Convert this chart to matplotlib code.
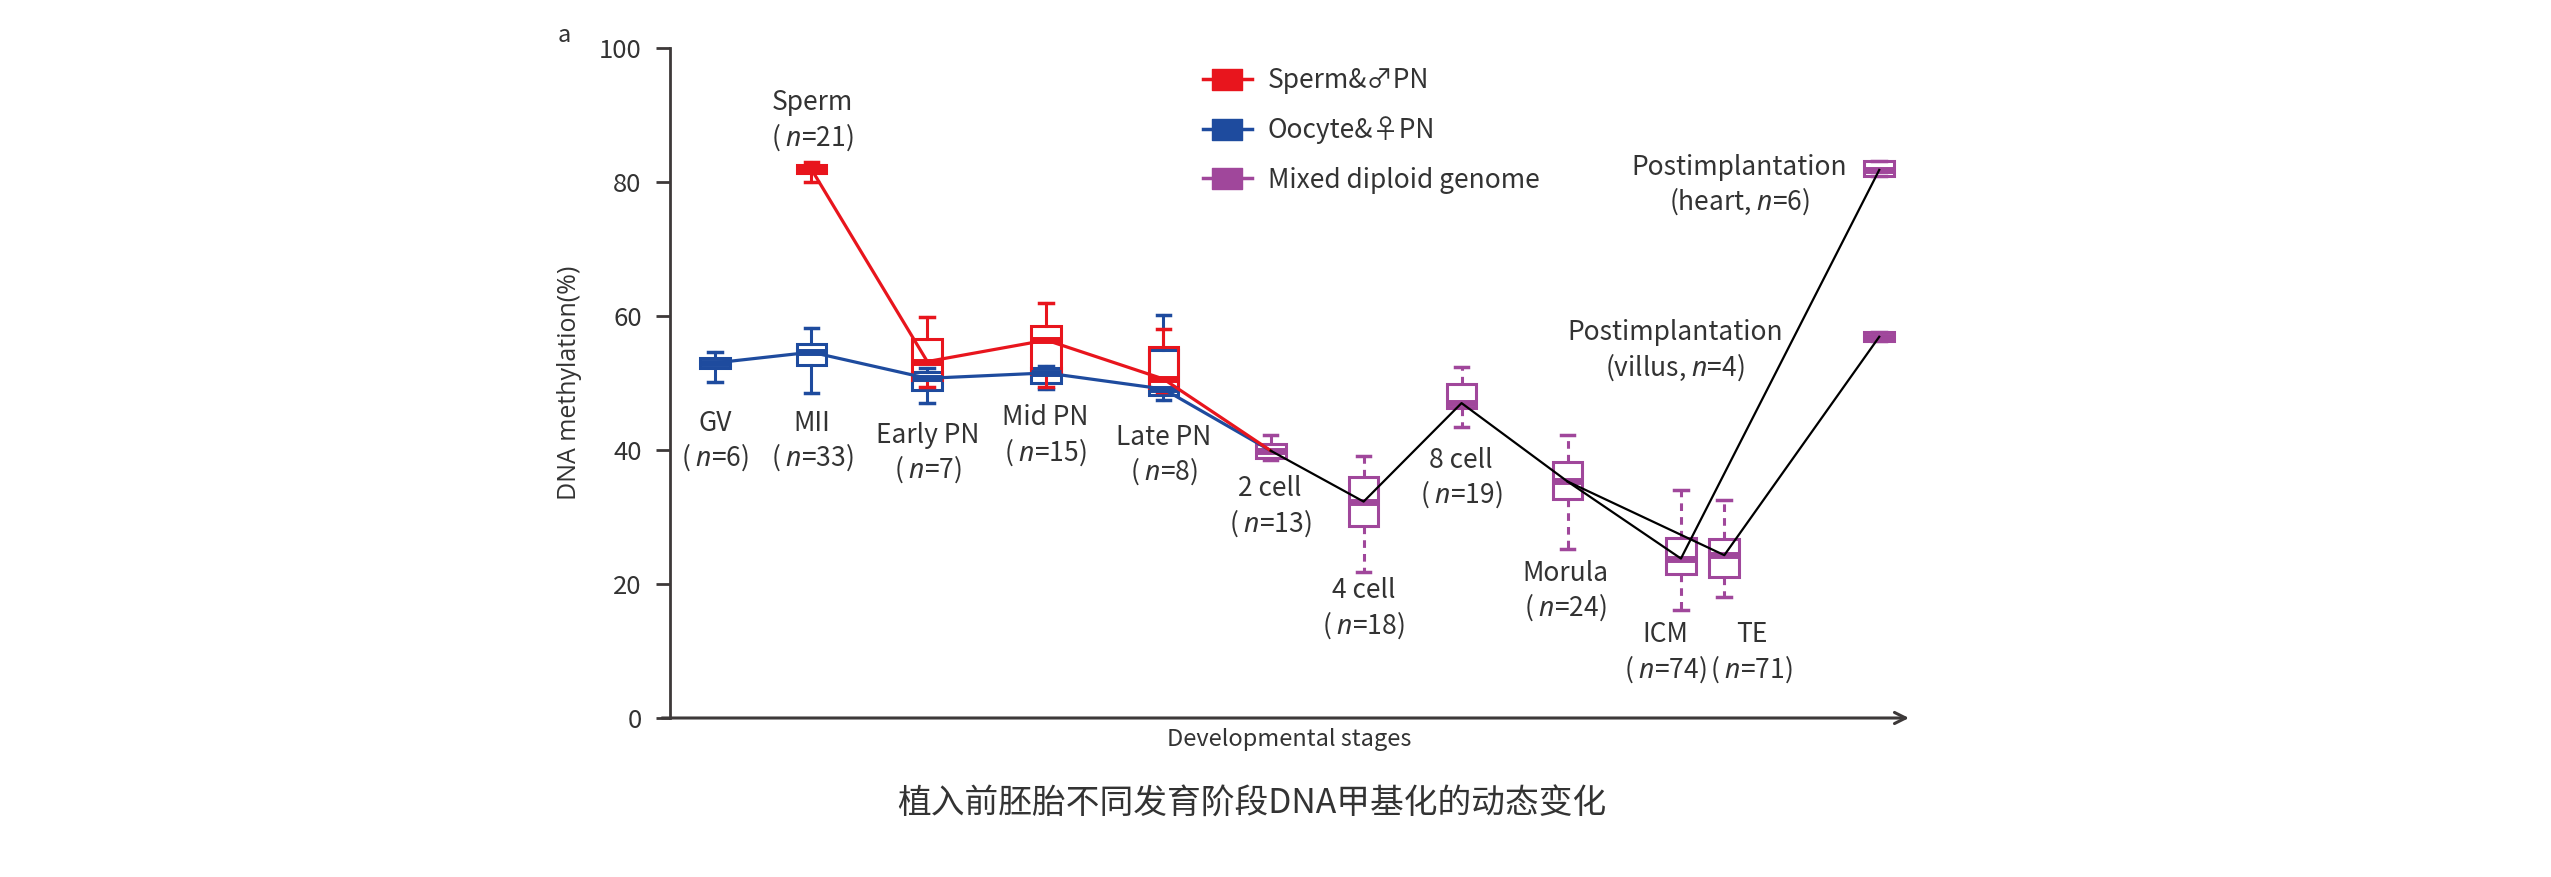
import matplotlib
matplotlib.use("Agg")
import matplotlib.pyplot as plt
from matplotlib.lines import Line2D
from matplotlib.path import Path

plt.rcParams['font.family'] = ['Noto Sans CJK SC', 'DejaVu Sans']
plt.rcParams['mathtext.fontset'] = 'custom'
plt.rcParams['mathtext.it'] = 'Noto Sans:italic'
plt.rcParams['mathtext.rm'] = 'Noto Sans CJK SC'

RED = '#e8151d'
BLUE = '#1e4b9e'
PURPLE = '#a0479b'
TXT = '#333333'

# stage positions along the (arbitrary, 0-100) developmental axis
pos = {'GV': 3.67, 'MII': 11.45, 'Early PN': 20.8, 'Mid PN': 30.4, 'Late PN': 39.85,
       '2 cell': 48.5, '4 cell': 56.0, '8 cell': 63.9, 'Morula': 72.45,
       'ICM': 81.6, 'TE': 85.1, 'Post': 97.6}

# Sperm & male PN (red)
red_stages = ['MII', 'Early PN', 'Mid PN', 'Late PN']
red_lo = [80.0, 49.4, 49.4, 48.6]
red_q1 = [81.3, 50.4, 51.4, 49.2]
red_med = [81.9, 53.2, 56.4, 50.6]
red_q3 = [82.6, 56.5, 58.5, 55.4]
red_hi = [83.0, 59.9, 62.0, 58.0]

# Oocyte & female PN (blue)
blue_stages = ['GV', 'MII', 'Early PN', 'Mid PN', 'Late PN']
blue_lo = [50.2, 48.5, 47.0, 49.1, 47.5]
blue_q1 = [52.2, 52.7, 48.9, 50.0, 48.2]
blue_med = [53.0, 54.6, 50.7, 51.5, 49.1]
blue_q3 = [53.8, 55.8, 51.7, 52.2, 54.9]
blue_hi = [54.6, 58.2, 52.3, 52.6, 60.1]

# Mixed diploid genome (purple)
mix_stages = ['2 cell', '4 cell', '8 cell', 'Morula', 'ICM', 'TE', 'Post', 'Post']
mix_lo = [38.5, 21.8, 43.5, 25.2, 16.1, 18.1, 80.85, 56.2]
mix_q1 = [38.8, 28.7, 46.2, 32.7, 21.5, 21.0, 80.85, 56.2]
mix_med = [39.9, 32.3, 47.0, 35.3, 23.8, 24.3, 81.8, 56.9]
mix_q3 = [40.9, 36.0, 49.9, 38.2, 26.9, 26.7, 83.2, 57.6]
mix_hi = [42.2, 39.1, 52.4, 42.3, 34.1, 32.5, 83.2, 57.6]

# black connecting paths through mixed medians (indices into mix lists)
paths_black = [[0, 1, 2, 3, 4, 6], [3, 5, 7]]

labels = [('GV', '( $n$=6)', 3.67, 44.0), ('MII', '( $n$=33)', 11.5, 44.0),
          ('Early PN', '( $n$=7)', 20.85, 42.2), ('Mid PN', '( $n$=15)', 30.3, 44.8),
          ('Late PN', '( $n$=8)', 39.9, 41.9), ('2 cell', '( $n$=13)', 48.45, 34.2),
          ('4 cell', '( $n$=18)', 56.0, 19.0), ('8 cell', '( $n$=19)', 63.85, 38.5),
          ('Morula', '( $n$=24)', 72.3, 21.6), ('ICM', '( $n$=74)', 80.3, 12.4),
          ('TE', '( $n$=71)', 87.3, 12.4), ('Sperm', '( $n$=21)', 11.5, 91.8),
          ('Postimplantation', '(heart, $n$=6)', 86.3, 82.2),
          ('Postimplantation', '(villus, $n$=4)', 81.1, 57.5)]

fig = plt.figure(figsize=(25.51, 8.77), dpi=100)
ax = fig.add_axes([669.5 / 2551, 1 - 718 / 877, (1909 - 669.5) / 2551, 670 / 877])
ax.set_xlim(0, 100)
ax.set_ylim(0, 100)


def draw_boxes(stages, lo, q1, med, q3, hi, color, dashed=False, width=2.4):
    stats = [dict(whislo=a, q1=b, med=c, q3=d, whishi=e)
             for a, b, c, d, e in zip(lo, q1, med, q3, hi)]
    ax.bxp(stats, positions=[pos[s] for s in stages], widths=width,
           showfliers=False, manage_ticks=False, patch_artist=True,
           capwidths=1.1,
           boxprops=dict(facecolor='none', edgecolor=color, linewidth=2.2),
           medianprops=dict(color=color, linewidth=5, solid_capstyle='butt'),
           whiskerprops=dict(color=color, linewidth=2.2,
                             linestyle=(0, (2.5, 2)) if dashed else '-'),
           capprops=dict(color=color, linewidth=2.5))


draw_boxes(blue_stages, blue_lo, blue_q1, blue_med, blue_q3, blue_hi, BLUE)
draw_boxes(red_stages, red_lo, red_q1, red_med, red_q3, red_hi, RED)
draw_boxes(mix_stages, mix_lo, mix_q1, mix_med, mix_q3, mix_hi, PURPLE, dashed=True)

# connecting lines
ax.plot([pos[s] for s in blue_stages] + [pos['2 cell']], blue_med + [mix_med[0]],
        color=BLUE, lw=2.3, zorder=4)
ax.plot([pos[s] for s in red_stages] + [pos['2 cell']], red_med + [mix_med[0]],
        color=RED, lw=2.3, zorder=5)
for p in paths_black:
    ax.plot([pos[mix_stages[i]] for i in p], [mix_med[i] for i in p],
            color='black', lw=1.6, zorder=5)

for name, n, x, y in labels:
    ax.text(x, y, name, ha='center', va='center', fontsize=19, color=TXT)
    ax.text(x, y - 5.1, n, ha='center', va='center', fontsize=19, color=TXT)

# axes styling
for s in ['top', 'right', 'bottom']:
    ax.spines[s].set_visible(False)
ax.spines['left'].set_color('#3d3939')
ax.spines['left'].set_linewidth(2)
ax.set_xticks([])
ax.set_yticks([0, 20, 40, 60, 80, 100])
ax.tick_params(axis='y', length=10, width=2, color='#3d3939', pad=10,
               labelsize=18.5, labelcolor=TXT)
ax.annotate('', xy=(1.0, 0), xycoords='axes fraction', xytext=(-0.006, 0),
            arrowprops=dict(arrowstyle='->', color='#3d3939', lw=2.2,
                            mutation_scale=20, shrinkA=0, shrinkB=0))
ax.set_ylabel('DNA methylation(%)', fontsize=18, family=['Open Sans', 'DejaVu Sans'],
              color=TXT, labelpad=12)
ax.set_xlabel('Developmental stages', fontsize=17, color=TXT, labelpad=7)
fig.text(564 / 2551, 1 - 35 / 877, 'a', fontsize=17, color=TXT, ha='center', va='center')
fig.text(1252 / 2551, 1 - 803 / 877, '植入前胚胎不同发育阶段DNA甲基化的动态变化',
         fontsize=24.3, color=TXT, ha='center', va='center')

# legend
rect = Path([(-1, -0.72), (1, -0.72), (1, 0.72), (-1, 0.72), (-1, -0.72)],
            [Path.MOVETO, Path.LINETO, Path.LINETO, Path.LINETO, Path.CLOSEPOLY])
handles = [Line2D([], [], color=c, lw=2.5, marker=rect, markersize=21,
                  markerfacecolor=c, markeredgecolor=c)
           for c in [RED, BLUE, PURPLE]]
ax.legend(handles, ['Sperm&♂PN', 'Oocyte&♀PN', 'Mixed diploid genome'],
          loc='upper left', bbox_to_anchor=(1203 / 2551, 1 - 67 / 877),
          bbox_transform=fig.transFigure, frameon=False, fontsize=19,
          handlelength=1.85, handletextpad=0.6, labelspacing=0.85,
          borderpad=0, borderaxespad=0, labelcolor=TXT)

fig.savefig('out.png', dpi=100)
